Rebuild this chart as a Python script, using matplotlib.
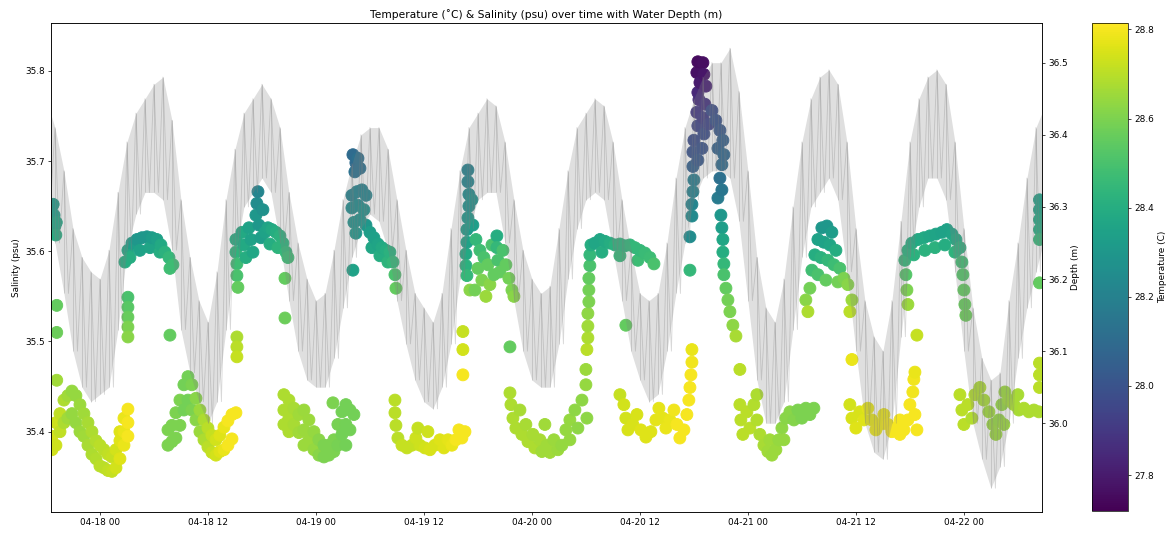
import numpy as np
import pandas as pd
import matplotlib
matplotlib.use("Agg")
import matplotlib.pyplot as plt
import matplotlib.dates as mdates

# ---------------------------------------------------------------------------
# Data
# ---------------------------------------------------------------------------
start = pd.Timestamp("2019-04-18 00:00")

# Water depth: hourly upper / lower values of the noisy pressure record (m)
depth_hours = list(range(-6, 106))
depth_upper = [
    36.45, 36.41, 36.35, 36.27, 36.23, 36.21, 36.20, 36.24, 36.32, 36.39,
    36.43, 36.45, 36.47, 36.48, 36.42, 36.31, 36.23, 36.17, 36.14, 36.21,
    36.31, 36.38, 36.43, 36.45, 36.47, 36.45, 36.41, 36.32, 36.25, 36.20,
    36.17, 36.18, 36.24, 36.31, 36.36, 36.40, 36.41, 36.41, 36.38, 36.31,
    36.24, 36.18, 36.16, 36.14, 36.18, 36.27, 36.35, 36.41, 36.43, 36.45,
    36.44, 36.39, 36.31, 36.24, 36.20, 36.18, 36.19, 36.27, 36.35, 36.41,
    36.43, 36.45, 36.44, 36.39, 36.31, 36.24, 36.18, 36.17, 36.18, 36.25,
    36.34, 36.41, 36.45, 36.48, 36.50, 36.50, 36.52, 36.46, 36.35, 36.23,
    36.16, 36.14, 36.20, 36.30, 36.39, 36.45, 36.48, 36.49, 36.47, 36.39,
    36.27, 36.17, 36.12, 36.10, 36.17, 36.28, 36.39, 36.45, 36.48, 36.49,
    36.47, 36.39, 36.27, 36.16, 36.09, 36.06, 36.07, 36.17, 36.25, 36.34,
    36.41, 36.44,
]
depth_lower = [
    36.30, 36.25, 36.18, 36.10, 36.05, 36.03, 36.04, 36.05, 36.13, 36.24,
    36.29, 36.32, 36.32, 36.31, 36.24, 36.13, 36.07, 36.03, 36.00, 36.03,
    36.13, 36.23, 36.30, 36.32, 36.34, 36.32, 36.25, 36.17, 36.10, 36.06,
    36.05, 36.05, 36.09, 36.16, 36.23, 36.27, 36.29, 36.28, 36.24, 36.17,
    36.11, 36.06, 36.03, 36.02, 36.05, 36.11, 36.20, 36.27, 36.31, 36.32,
    36.32, 36.25, 36.17, 36.10, 36.06, 36.05, 36.05, 36.11, 36.20, 36.27,
    36.31, 36.32, 36.31, 36.24, 36.17, 36.10, 36.06, 36.03, 36.04, 36.10,
    36.18, 36.25, 36.31, 36.34, 36.35, 36.35, 36.34, 36.28, 36.17, 36.06,
    36.00, 36.00, 36.03, 36.13, 36.23, 36.30, 36.32, 36.34, 36.31, 36.21,
    36.10, 36.00, 35.96, 35.95, 36.00, 36.12, 36.23, 36.30, 36.34, 36.34,
    36.31, 36.21, 36.10, 36.00, 35.95, 35.91, 35.94, 36.00, 36.09, 36.16,
    36.21, 36.26,
]

# CTD samples: hours after 04-18 00:00, salinity (psu), temperature (C)
obs_hours = [
    -5.4, -5.4, -5.35, -5.2, -5.1, -5.0, -4.9, -4.85, -4.8, -4.8, -4.8,
    -5.33, -5.33, -4.89, -4.89, -4.44, -4.44, -4.0, -4.0, -3.56, -3.56, -3.11, -3.11,
    -2.67, -2.67, -2.22, -2.22, -1.78, -1.78, -1.33, -1.33, -0.89, -0.89, -0.44, -0.44,
    0.0, 0.0, 0.44, 0.44, 0.89, 0.89, 1.33, 1.33, 1.78, 1.78, 2.22, 2.22, 2.22,
    2.67, 2.67, 2.67, 3.11, 3.11, 3.11,
    2.78, 3.11, 3.56, 4.11, 4.67, 5.22, 5.78, 6.33, 6.78, 7.22, 7.67, 8.11,
    3.33, 4.44, 5.56, 6.67, 7.78, 3.11, 3.11, 3.11, 3.11, 3.11, 7.78,
    7.56, 7.56, 8.0, 8.0, 8.44, 8.44, 8.89, 8.89, 9.33, 9.33, 9.78, 9.78,
    10.22, 10.22, 10.67, 10.67, 11.11, 11.11, 11.56, 11.56, 12.0, 12.0, 12.44, 12.44,
    12.89, 12.89, 13.33, 13.33, 13.78, 13.78, 14.22, 14.22, 14.67, 14.67, 15.11,
    15.11, 15.11, 15.22, 15.22, 15.33, 15.78, 16.0, 16.22, 16.56, 16.78, 17.0,
    17.33, 17.44, 17.56, 17.67, 17.89, 18.11, 18.33, 18.67, 18.89, 19.11, 19.56,
    19.78, 20.0, 20.33, 20.67, 20.89, 20.56, 20.56, 15.22, 15.22, 15.22,
    20.44, 20.44, 20.44, 21.0, 21.0, 21.0, 21.56, 21.56, 22.11, 22.11, 22.67, 22.67,
    22.67, 23.22, 23.22, 23.78, 23.78, 24.33, 24.33, 24.89, 24.89, 25.44, 25.44,
    25.89, 26.0, 26.0, 26.44, 26.44, 26.89, 26.89, 27.33, 27.33, 27.33, 27.78, 27.78,
    28.22,
    28.11, 28.44, 28.67, 28.33, 28.89, 28.0, 28.56, 29.11, 29.56, 28.0, 28.67, 29.33,
    28.22, 28.89, 29.56, 28.44, 30.0, 30.44, 30.89, 31.33, 31.78, 32.22, 32.56, 32.78,
    32.89, 30.22, 31.11, 32.0, 28.11,
    32.78, 32.78, 32.89, 33.11, 33.56, 34.11, 34.67, 35.11, 35.33, 35.56, 36.11, 36.44,
    36.67, 37.22, 37.78, 38.22, 38.67, 39.11, 39.56, 39.89, 40.22, 40.56,
    40.89, 40.89, 41.0, 41.0, 40.89, 40.78, 40.78, 40.67, 40.67, 40.78, 41.33, 41.44,
    41.78, 42.22, 42.67, 43.11, 42.0, 42.44, 41.67, 43.33, 43.78, 44.11, 44.11, 44.22,
    44.44, 44.78, 45.11, 45.44, 45.78, 46.0, 41.11, 42.89, 43.56,
    40.33, 40.33, 40.33, 45.56,
    45.56, 45.67, 45.89, 46.22, 46.67, 46.89, 47.33, 47.56, 48.11, 48.33, 48.89, 49.11,
    49.44, 49.67, 50.0, 50.44, 50.89, 51.33, 51.78, 52.22, 52.22, 52.78, 53.11, 53.56,
    54.0, 54.0, 54.11,
    54.11, 54.22, 54.22, 54.22, 54.33, 54.33, 54.33, 54.44, 54.44, 54.56,
    55.0, 55.56, 56.11, 56.67, 57.22, 57.78, 58.33, 58.89, 59.44, 60.0, 60.56, 61.11,
    61.56, 55.78, 57.78, 59.78, 58.44,
    57.78, 58.22, 58.44, 58.67, 59.22, 59.67, 60.11, 60.67, 61.22, 61.78, 62.11, 62.56,
    62.89, 63.33, 63.78, 64.11, 64.44, 64.89, 65.22, 65.44, 65.56, 65.67, 65.78, 65.78,
    65.56, 65.56,
    66.44, 67.0, 66.33, 67.11, 66.67, 67.33, 66.44,
    66.56, 67.22, 66.33, 67.0, 67.67, 66.44, 67.11,
    66.0, 65.89, 66.44, 65.89, 66.89,
    68.0, 68.44, 68.89, 69.22, 68.67, 69.33, 69.11, 68.89, 69.11, 68.67,
    66.0, 65.89, 65.78, 65.78,
    69.0, 69.11, 69.22, 69.22, 69.33, 69.33, 69.56, 69.78, 70.0, 70.33, 70.67, 71.11,
    71.11, 71.22, 71.44, 71.89, 72.22, 72.67, 73.0, 73.0, 73.33, 73.78, 74.22, 74.44,
    74.67, 75.11, 75.44, 75.78, 76.0, 76.22, 76.67, 77.11, 77.56, 78.0, 78.44, 78.89,
    79.33,
    80.22, 80.78, 81.33, 79.78, 80.44, 81.11, 81.78, 79.44, 80.11, 80.89, 81.56, 82.22,
    79.11, 79.78, 80.67, 82.0, 82.67, 83.11, 78.89, 78.44, 83.56, 78.67, 83.33, 83.56,
    83.33, 83.56, 84.0, 84.44, 84.89, 85.33, 85.78, 86.22, 86.67, 87.11, 87.56, 88.0,
    88.44, 88.89, 88.89, 89.33, 89.78, 90.0, 90.33, 90.44, 90.56, 90.56, 90.78, 90.78,
    89.44, 89.78, 90.22, 90.89, 91.56, 92.22, 92.89, 93.56, 94.11, 94.67, 95.11, 95.56,
    90.44, 91.67, 92.78, 93.89, 95.0, 95.78, 95.89, 96.0, 96.11, 96.22, 89.56, 89.67,
    89.78,
    95.56, 95.78, 96.0, 96.44, 96.89, 97.22, 97.78, 98.22, 98.78, 99.22, 99.56, 99.89,
    100.22, 100.44, 100.56, 101.0, 101.56, 102.0, 102.11, 102.67, 103.22, 103.78, 104.33,
    104.4, 104.4, 104.4, 104.4, 104.4, 104.4, 104.4, 104.4, 104.4,
]
salinity_psu = [
    35.648, 35.635, 35.622, 35.652, 35.640, 35.628, 35.618, 35.632, 35.540, 35.510, 35.457,
    35.395, 35.380, 35.410, 35.385, 35.420, 35.400, 35.435, 35.410, 35.440, 35.415, 35.445, 35.420,
    35.440, 35.410, 35.430, 35.400, 35.420, 35.395, 35.410, 35.385, 35.400, 35.375, 35.390, 35.370,
    35.385, 35.362, 35.380, 35.360, 35.375, 35.357, 35.372, 35.356, 35.380, 35.360, 35.390, 35.370, 35.400,
    35.400, 35.385, 35.415, 35.410, 35.395, 35.425,
    35.588, 35.601, 35.609, 35.613, 35.615, 35.616, 35.615, 35.613, 35.607, 35.599, 35.593, 35.585,
    35.593, 35.601, 35.604, 35.599, 35.581, 35.549, 35.538, 35.527, 35.516, 35.505, 35.507,
    35.402, 35.385, 35.407, 35.389, 35.421, 35.393, 35.435, 35.407, 35.452, 35.424, 35.461, 35.435,
    35.452, 35.424, 35.437, 35.413, 35.424, 35.400, 35.413, 35.391, 35.404, 35.383, 35.396, 35.377,
    35.391, 35.374, 35.396, 35.378, 35.405, 35.380, 35.412, 35.385, 35.419, 35.392, 35.421,
    35.613, 35.599, 35.586, 35.573, 35.560, 35.621, 35.607, 35.593, 35.626, 35.613, 35.599,
    35.640, 35.653, 35.666, 35.629, 35.615, 35.646, 35.621, 35.626, 35.608, 35.624, 35.621,
    35.604, 35.617, 35.609, 35.599, 35.593, 35.570, 35.526, 35.505, 35.494, 35.483,
    35.441, 35.424, 35.408, 35.435, 35.415, 35.400, 35.426, 35.408, 35.419, 35.399, 35.424, 35.402,
    35.385, 35.413, 35.391, 35.400, 35.380, 35.391, 35.374, 35.385, 35.372, 35.385, 35.374,
    35.432, 35.391, 35.378, 35.408, 35.385, 35.422, 35.397, 35.430, 35.408, 35.385, 35.424, 35.402,
    35.419,
    35.707, 35.698, 35.703, 35.688, 35.692, 35.662, 35.666, 35.668, 35.662, 35.648, 35.651, 35.646,
    35.632, 35.635, 35.629, 35.620, 35.621, 35.615, 35.608, 35.604, 35.601, 35.599, 35.588, 35.574,
    35.559, 35.604, 35.595, 35.588, 35.579,
    35.435, 35.421, 35.407, 35.393, 35.385, 35.382, 35.385, 35.393, 35.404, 35.385, 35.382, 35.400,
    35.380, 35.385, 35.391, 35.382, 35.391, 35.385, 35.391, 35.402, 35.393, 35.400,
    35.690, 35.677, 35.663, 35.650, 35.637, 35.624, 35.610, 35.597, 35.584, 35.573, 35.657, 35.629,
    35.613, 35.601, 35.593, 35.585, 35.581, 35.568, 35.557, 35.563, 35.574, 35.617, 35.604, 35.590,
    35.577, 35.601, 35.585, 35.570, 35.557, 35.550, 35.557, 35.550, 35.607,
    35.511, 35.491, 35.463, 35.494,
    35.443, 35.430, 35.415, 35.404, 35.424, 35.397, 35.408, 35.389, 35.397, 35.382, 35.391, 35.378,
    35.408, 35.385, 35.377, 35.391, 35.380, 35.385, 35.402, 35.413, 35.391, 35.424, 35.404, 35.435,
    35.452, 35.469, 35.415,
    35.491, 35.504, 35.517, 35.531, 35.544, 35.557, 35.570, 35.584, 35.596, 35.607,
    35.609, 35.613, 35.611, 35.609, 35.607, 35.608, 35.606, 35.607, 35.604, 35.601, 35.598, 35.593,
    35.586, 35.599, 35.595, 35.590, 35.518,
    35.441, 35.430, 35.415, 35.402, 35.408, 35.419, 35.402, 35.394, 35.400, 35.413, 35.426, 35.415,
    35.404, 35.413, 35.424, 35.408, 35.393, 35.402, 35.419, 35.435, 35.449, 35.463, 35.477, 35.491,
    35.579, 35.616,
    35.810, 35.809, 35.798, 35.796, 35.787, 35.783, 35.776,
    35.768, 35.763, 35.754, 35.748, 35.741, 35.739, 35.730,
    35.723, 35.710, 35.701, 35.694, 35.714,
    35.756, 35.745, 35.734, 35.723, 35.714, 35.707, 35.696, 35.681, 35.668, 35.659,
    35.679, 35.666, 35.652, 35.639,
    35.640, 35.626, 35.613, 35.599, 35.586, 35.574, 35.559, 35.546, 35.533, 35.518, 35.506, 35.469,
    35.430, 35.413, 35.397, 35.422, 35.404, 35.430, 35.441, 35.413, 35.397, 35.385, 35.378, 35.391,
    35.374, 35.380, 35.391, 35.404, 35.391, 35.415, 35.422, 35.413, 35.424, 35.415, 35.426, 35.419,
    35.426,
    35.626, 35.628, 35.621, 35.613, 35.610, 35.607, 35.601, 35.596, 35.593, 35.590, 35.585, 35.581,
    35.579, 35.574, 35.568, 35.566, 35.570, 35.563, 35.559, 35.546, 35.546, 35.533, 35.533, 35.480,
    35.430, 35.415, 35.404, 35.422, 35.413, 35.426, 35.413, 35.402, 35.408, 35.419, 35.408, 35.400,
    35.404, 35.413, 35.397, 35.402, 35.413, 35.430, 35.444, 35.458, 35.466, 35.419, 35.402, 35.507,
    35.590, 35.601, 35.609, 35.613, 35.615, 35.617, 35.619, 35.621, 35.624, 35.619, 35.613, 35.604,
    35.596, 35.601, 35.604, 35.607, 35.599, 35.588, 35.574, 35.557, 35.541, 35.529, 35.574, 35.557,
    35.541,
    35.441, 35.424, 35.408, 35.430, 35.415, 35.441, 35.449, 35.435, 35.422, 35.408, 35.397, 35.413,
    35.430, 35.408, 35.444, 35.435, 35.430, 35.441, 35.424, 35.426, 35.422, 35.424, 35.422,
    35.476, 35.463, 35.449, 35.657, 35.646, 35.635, 35.624, 35.613, 35.565,
]
temperature_c = [
    28.33, 28.35, 28.38, 28.32, 28.33, 28.36, 28.40, 28.37, 28.55, 28.57, 28.66,
    28.74, 28.74, 28.73, 28.73, 28.71, 28.71, 28.68, 28.68, 28.66, 28.66, 28.64, 28.64,
    28.64, 28.64, 28.65, 28.65, 28.66, 28.66, 28.67, 28.67, 28.68, 28.68, 28.69, 28.69,
    28.70, 28.70, 28.70, 28.70, 28.71, 28.71, 28.72, 28.72, 28.74, 28.74, 28.76, 28.76, 28.76,
    28.78, 28.78, 28.78, 28.80, 28.80, 28.80,
    28.40, 28.37, 28.33, 28.30, 28.30, 28.30, 28.32, 28.34, 28.38, 28.42, 28.45, 28.47,
    28.40, 28.35, 28.36, 28.40, 28.48, 28.50, 28.53, 28.56, 28.60, 28.62, 28.55,
    28.60, 28.60, 28.60, 28.60, 28.60, 28.60, 28.60, 28.60, 28.58, 28.58, 28.58, 28.58,
    28.60, 28.60, 28.62, 28.62, 28.65, 28.65, 28.68, 28.68, 28.70, 28.70, 28.72, 28.72,
    28.74, 28.74, 28.76, 28.76, 28.78, 28.78, 28.80, 28.80, 28.80, 28.80, 28.80,
    28.40, 28.43, 28.47, 28.50, 28.55, 28.38, 28.38, 28.40, 28.35, 28.35, 28.37,
    28.30, 28.25, 28.22, 28.30, 28.33, 28.27, 28.35, 28.36, 28.40, 28.38, 28.40,
    28.43, 28.42, 28.43, 28.45, 28.47, 28.55, 28.57, 28.68, 28.70, 28.72,
    28.68, 28.68, 28.68, 28.68, 28.68, 28.68, 28.67, 28.67, 28.66, 28.66, 28.65, 28.65,
    28.65, 28.65, 28.65, 28.64, 28.64, 28.62, 28.62, 28.60, 28.60, 28.60, 28.60,
    28.60, 28.60, 28.60, 28.59, 28.59, 28.58, 28.58, 28.58, 28.58, 28.58, 28.58, 28.58,
    28.58,
    28.10, 28.10, 28.12, 28.13, 28.13, 28.20, 28.22, 28.20, 28.22, 28.25, 28.25, 28.27,
    28.28, 28.28, 28.30, 28.30, 28.33, 28.34, 28.36, 28.38, 28.40, 28.42, 28.45, 28.50,
    28.55, 28.37, 28.40, 28.43, 28.35,
    28.70, 28.70, 28.70, 28.70, 28.72, 28.72, 28.72, 28.73, 28.72, 28.73, 28.74, 28.73,
    28.75, 28.75, 28.76, 28.76, 28.77, 28.78, 28.80, 28.80, 28.80, 28.80,
    28.20, 28.22, 28.25, 28.27, 28.30, 28.32, 28.35, 28.38, 28.42, 28.45, 28.28, 28.33,
    28.45, 28.48, 28.50, 28.55, 28.55, 28.60, 28.58, 28.62, 28.55, 28.40, 28.45, 28.50,
    28.55, 28.50, 28.55, 28.58, 28.60, 28.62, 28.62, 28.65, 28.50,
    28.72, 28.74, 28.80, 28.55,
    28.68, 28.68, 28.68, 28.68, 28.67, 28.68, 28.67, 28.68, 28.67, 28.68, 28.67, 28.66,
    28.66, 28.66, 28.66, 28.65, 28.65, 28.64, 28.64, 28.64, 28.64, 28.63, 28.63, 28.63,
    28.64, 28.65, 28.63,
    28.70, 28.68, 28.66, 28.63, 28.60, 28.58, 28.55, 28.50, 28.45, 28.40,
    28.37, 28.37, 28.38, 28.40, 28.42, 28.43, 28.43, 28.44, 28.45, 28.45, 28.46, 28.47,
    28.50, 28.40, 28.45, 28.47, 28.55,
    28.72, 28.74, 28.74, 28.75, 28.75, 28.75, 28.76, 28.76, 28.76, 28.77, 28.77, 28.77,
    28.78, 28.78, 28.79, 28.80, 28.80, 28.80, 28.80, 28.80, 28.80, 28.80, 28.79, 28.78,
    28.45, 28.25,
    27.75, 27.76, 27.77, 27.78, 27.80, 27.82, 27.84,
    27.86, 27.88, 27.90, 27.92, 27.95, 27.95, 27.98,
    27.98, 28.00, 28.02, 28.05, 28.00,
    27.98, 28.00, 28.02, 28.05, 28.06, 28.08, 28.10, 28.12, 28.15, 28.17,
    28.18, 28.20, 28.22, 28.24,
    28.30, 28.33, 28.37, 28.40, 28.45, 28.50, 28.55, 28.58, 28.60, 28.63, 28.67, 28.70,
    28.70, 28.70, 28.70, 28.70, 28.70, 28.69, 28.68, 28.69, 28.68, 28.67, 28.66, 28.66,
    28.65, 28.65, 28.64, 28.63, 28.64, 28.62, 28.62, 28.61, 28.60, 28.60, 28.60, 28.60,
    28.60,
    28.30, 28.30, 28.32, 28.35, 28.35, 28.37, 28.40, 28.40, 28.42, 28.45, 28.47, 28.50,
    28.48, 28.50, 28.55, 28.58, 28.60, 28.62, 28.58, 28.62, 28.65, 28.68, 28.70, 28.78,
    28.74, 28.75, 28.76, 28.75, 28.76, 28.77, 28.77, 28.78, 28.78, 28.78, 28.79, 28.80,
    28.80, 28.80, 28.80, 28.80, 28.80, 28.80, 28.79, 28.79, 28.78, 28.80, 28.80, 28.72,
    28.45, 28.42, 28.40, 28.38, 28.38, 28.37, 28.36, 28.35, 28.35, 28.36, 28.38, 28.42,
    28.42, 28.42, 28.42, 28.40, 28.43, 28.48, 28.52, 28.55, 28.56, 28.57, 28.52, 28.60,
    28.65,
    28.70, 28.70, 28.70, 28.70, 28.69, 28.69, 28.68, 28.67, 28.66, 28.65, 28.65, 28.64,
    28.64, 28.65, 28.65, 28.66, 28.67, 28.67, 28.67, 28.68, 28.68, 28.68, 28.68,
    28.70, 28.70, 28.70, 28.35, 28.36, 28.38, 28.40, 28.45, 28.55,
]

# ---------------------------------------------------------------------------
# Prepare series
# ---------------------------------------------------------------------------
def to_time(hours):
    return start + pd.to_timedelta(np.asarray(hours, dtype=float), unit="h")

order = np.argsort(np.asarray(obs_hours), kind="stable")
obs_t = to_time(np.asarray(obs_hours)[order])
sal = np.asarray(salinity_psu)[order]
temp = np.asarray(temperature_c)[order]

dh = np.asarray(depth_hours, dtype=float)
band_t = to_time(dh)
line_hours = np.empty(2 * len(dh))
line_hours[0::2] = dh
line_hours[1::2] = dh + 0.5
line_depth = np.empty(2 * len(dh))
line_depth[0::2] = depth_upper
line_depth[1::2] = depth_lower
line_t = to_time(line_hours)

# ---------------------------------------------------------------------------
# Figure
# ---------------------------------------------------------------------------
DPI = 64
fig = plt.figure(figsize=(1172 / DPI, 537 / DPI), dpi=DPI)
ax = fig.add_axes([0.0435, 0.0466, 0.8455, 0.9106])

sc = ax.scatter(obs_t, sal, c=temp, cmap="viridis", s=180,
                vmin=27.72, vmax=28.815)
ax.set_ylabel("Salinity (psu)")
ax.set_ylim(35.311, 35.853)
ax.set_yticks([35.4, 35.5, 35.6, 35.7, 35.8])

ax2 = ax.twinx()
# dense noisy depth trace: envelope shading, hourly spikes and the zig-zag
ax2.fill_between(band_t, depth_lower, depth_upper, color="grey",
                 alpha=0.25, lw=0)
ax2.vlines(band_t, depth_lower, depth_upper, color="grey", alpha=0.3, lw=1.0)
ax2.plot(line_t, line_depth, color="grey", alpha=0.3, lw=1.0)
ax2.set_ylabel("Depth (m)")
ax2.set_ylim(35.877, 36.555)
ax2.set_yticks([36.0, 36.1, 36.2, 36.3, 36.4, 36.5])

ax.set_xlim(start + pd.Timedelta(hours=-5.44), start + pd.Timedelta(hours=104.67))
ax.xaxis.set_major_locator(mdates.HourLocator(byhour=[0, 12]))
ax.xaxis.set_major_formatter(mdates.DateFormatter("%m-%d %H"))

ax.set_title("Temperature (\u02daC) & Salinity (psu) over time with Water Depth (m)")

cax = fig.add_axes([0.9317, 0.049, 0.0307, 0.9087])
cb = fig.colorbar(sc, cax=cax)
cb.set_label("Temperature (C)")
cb.set_ticks([27.8, 28.0, 28.2, 28.4, 28.6, 28.8])

fig.savefig("out.png", dpi=DPI)
